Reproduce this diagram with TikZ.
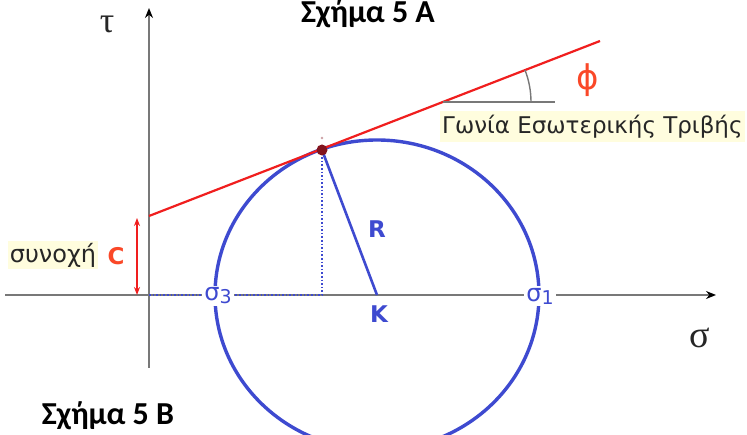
\documentclass[tikz,border=0pt]{standalone}
\usepackage{fontspec}
\setmainfont{DejaVu Sans}
\newfontfamily\titlefont{Carlito}
\newfontfamily\symfont{Liberation Serif}
\usetikzlibrary{arrows.meta}
\definecolor{mblue}{RGB}{62,74,208}
\definecolor{mred}{RGB}{240,30,30}
\definecolor{morange}{RGB}{250,72,40}
\definecolor{axgray}{RGB}{120,120,120}
\definecolor{hilite}{RGB}{255,253,222}
\definecolor{tpoint}{RGB}{130,20,30}
\tikzset{
  axis/.style={draw=axgray, line width=2pt, -{Stealth[length=10pt,width=8pt,color=black]}},
  circ/.style={draw=mblue, line width=3.4pt},
  blueline/.style={draw=mblue, line width=2.6pt},
  dotline/.style={draw=mblue, line width=1.6pt, dotted},
  redline/.style={draw=mred, line width=2.2pt},
  bluelbl/.style={text=mblue, font=\fontsize{24}{26}\selectfont, inner sep=1pt},
  boldlbl/.style={font=\fontsize{23}{26}\selectfont\bfseries, inner sep=1pt},
  title/.style={font=\titlefont\fontsize{32}{34}\selectfont\bfseries, inner sep=0pt},
  hl/.style={fill=hilite, inner sep=2pt, text=black!85}
}
\begin{document}
\begin{tikzpicture}[x=1pt,y=-1pt]
\useasboundingbox[fill=white] (0,0) rectangle (747,435);
% reference points
\coordinate (O) at (149,295);
\coordinate (K) at (377,295);
\coordinate (T) at (322,150);
\coordinate (Tfoot) at (322,295);
\coordinate (Cbase) at (149,216);
\coordinate (Rend) at (600,41);
\coordinate (Ax1) at (5,295);
\coordinate (Ax2) at (716,295);
\coordinate (Ay1) at (149,368);
\coordinate (Ay2) at (149,8);
\coordinate (Ang) at (443,102);
\coordinate (AngEnd) at (555,102);
\coordinate (Ca) at (137,218);
\coordinate (Cb) at (137,295);
% axes
\draw[axis] (Ax1) -- (Ax2);
\draw[axis] (Ay1) -- (Ay2);
% circle
\draw[circ] (K) ellipse [x radius=162, y radius=155];
% dotted projections
\draw[dotline] (T) -- (Tfoot);
\draw[dotline] (O) -- (Tfoot);
% radius
\draw[blueline] (T) -- (K);
% failure envelope
\draw[redline] (Cbase) -- (Rend);
% cohesion arrow
\draw[mred, line width=1.4pt, {Stealth[length=8pt,width=6pt]}-{Stealth[length=8pt,width=6pt]}] (Ca) -- (Cb);
% angle
\draw[axgray, line width=1.4pt] (Ang) -- (AngEnd);
\draw[axgray, line width=1.4pt] ([xshift=88pt]Ang) arc[start angle=0, end angle=-21.3, radius=88];
% tangent point
\fill[tpoint] (T) circle (5.5);
\fill[tpoint!40] (322,138) circle (1.3);
% labels
\node[bluelbl, fill=white, inner sep=2pt] (s3) at (218,296) {σ\raisebox{-3pt}{\fontsize{19}{20}\selectfont 3}};
\node[bluelbl, fill=white, inner sep=2pt] (s1) at (540,296) {σ\raisebox{-3pt}{\fontsize{19}{20}\selectfont 1}};
\node[boldlbl, text=mblue] (Klbl) at (379,314) {Κ};
\node[boldlbl, text=mblue] (Rlbl) at (377,229) {R};
\node[boldlbl, text=morange] (Clbl) at (116,256) {C};
\node[hl, font=\fontsize{24}{26}\selectfont] (syn) at (53,255) {συνοχή};
\node[hl, anchor=west, minimum height=31pt, font=\fontsize{23}{26}\selectfont] (gon) at (440,127) {Γωνία Εσωτερικής Τριβής};
\node[text=morange, font=\fontsize{34}{36}\selectfont, inner sep=0pt] (phi) at (588,80) {ϕ};
\node[font=\symfont\fontsize{36}{38}\selectfont, text=black!85, inner sep=0pt] (tau) at (107,24) {τ};
\node[font=\symfont\fontsize{38}{40}\selectfont, text=black!85, inner sep=0pt] (sig) at (700,338) {σ};
\node[title] (tA) at (368,14) {Σχήμα 5 Α};
\node[title] (tB) at (108,416) {Σχήμα 5 Β};
\end{tikzpicture}
\end{document}
